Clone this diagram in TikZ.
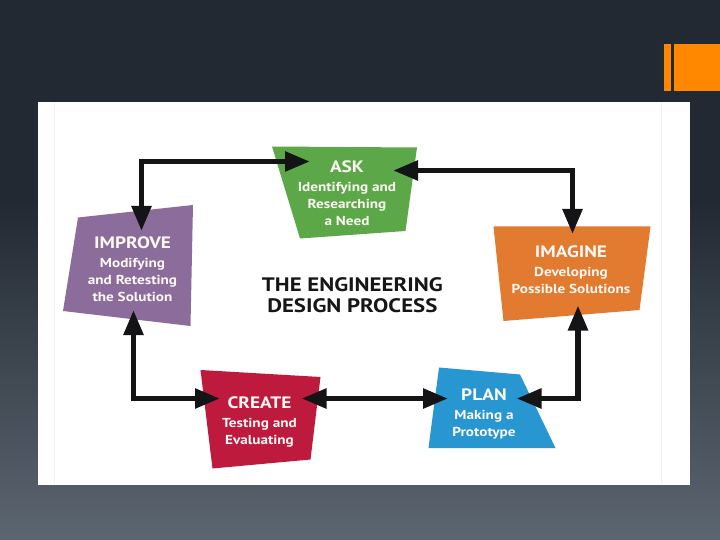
\documentclass[tikz,border=0pt]{standalone}
\usepackage{fontspec}
\newfontfamily\diagfont[FakeStretch=1.17]{PT Sans}
\usetikzlibrary{arrows.meta}
\definecolor{bgtop}{RGB}{34,41,50}
\definecolor{bgbot}{RGB}{92,102,112}
\definecolor{accent}{RGB}{255,136,0}
\definecolor{askc}{RGB}{92,168,72}
\definecolor{impc}{RGB}{140,108,155}
\definecolor{imgc}{RGB}{226,122,48}
\definecolor{crec}{RGB}{190,26,62}
\definecolor{planc}{RGB}{40,150,208}
\definecolor{arrowc}{RGB}{20,20,22}
\definecolor{titlec}{RGB}{22,22,22}
\definecolor{boxtext}{RGB}{252,248,244}
\begin{document}
\begin{tikzpicture}[x=1pt,y=-1pt,
  biarrow/.style={line width=5.5pt, draw=arrowc, line join=miter,
    {Triangle[length=25pt,width=19pt]}-{Triangle[length=25pt,width=19pt]}},
  blocktext/.style={anchor=north, inner sep=0pt, align=center, text=boxtext,
    font=\diagfont\bfseries\fontsize{13}{17}\selectfont},
  titletext/.style={anchor=north, inner sep=0pt, align=center, text=titlec,
    font=\diagfont\bfseries\fontsize{19.5}{20.7}\selectfont}
]
\newcommand{\headline}[1]{{\fontsize{16.5}{17}\selectfont #1}\\[2pt]}
\useasboundingbox (0,0) rectangle (720,540);
% background
\fill[bgtop] (0,0) rectangle (720,540);
\shade[top color=bgtop, bottom color=bgbot] (0,200) rectangle (720,540);
% accent
\fill[accent] (664,44) rectangle (670.5,91);
\fill[accent] (674,44) rectangle (720,91);
% white panel
\fill[white] (38,102) rectangle (690,485);
\draw[black!5, line width=0.6pt] (54,102) -- (54,485);
\draw[black!5, line width=0.6pt] (661,102) -- (661,485);
% blocks
\fill[askc] (272,146.5) -- (417,147.5) -- (405.5,231) -- (300,238.5) -- cycle;
\fill[impc] (78,217.5) -- (193,205) -- (190.5,326) -- (63,311) -- cycle;
\fill[imgc] (493.5,226.5) -- (650.5,226.5) -- (639.5,310) -- (503.5,321) -- cycle;
\fill[crec] (200.5,370) -- (320.5,377) -- (310.5,459.5) -- (212.5,468.5) -- cycle;
\fill[planc] (439,367.5) -- (520,374.5) -- (555.5,448) -- (428.5,448) -- cycle;
% texts
\node[blocktext] (ask) at (347,160.5) {\headline{ASK}Identifying and\\Researching\\a Need};
\node[blocktext] (improve) at (132.5,236.5) {\headline{IMPROVE}Modifying\\and Retesting\\the Solution};
\node[blocktext] (imagine) at (571,245.5) {\headline{IMAGINE}Developing\\Possible Solutions};
\node[blocktext] (create) at (259.5,396.5) {\headline{CREATE}Testing and\\Evaluating};
\node[blocktext] (plan) at (484,388.5) {\headline{PLAN}Making a\\Prototype};
\node[titletext] (title) at (352.3,277.5) {THE ENGINEERING\\DESIGN PROCESS};
% connector end points
\coordinate (impT) at (141.5,231);
\coordinate (askW) at (310,161.5);
\coordinate (askE) at (393,170.5);
\coordinate (imgT) at (572.5,234);
\coordinate (imgB) at (578,305.5);
\coordinate (planE) at (516.5,398.5);
\coordinate (createE) at (301.5,398.5);
\coordinate (planW) at (448,398.5);
\coordinate (impB) at (133.5,310);
\coordinate (createW) at (220,398.5);
% connectors
\draw[biarrow] (impT) |- (askW);
\draw[biarrow] (askE) -| (imgT);
\draw[biarrow] (imgB) |- (planE);
\draw[biarrow] (createE) -- (planW);
\draw[biarrow] (impB) |- (createW);
\end{tikzpicture}
\end{document}
